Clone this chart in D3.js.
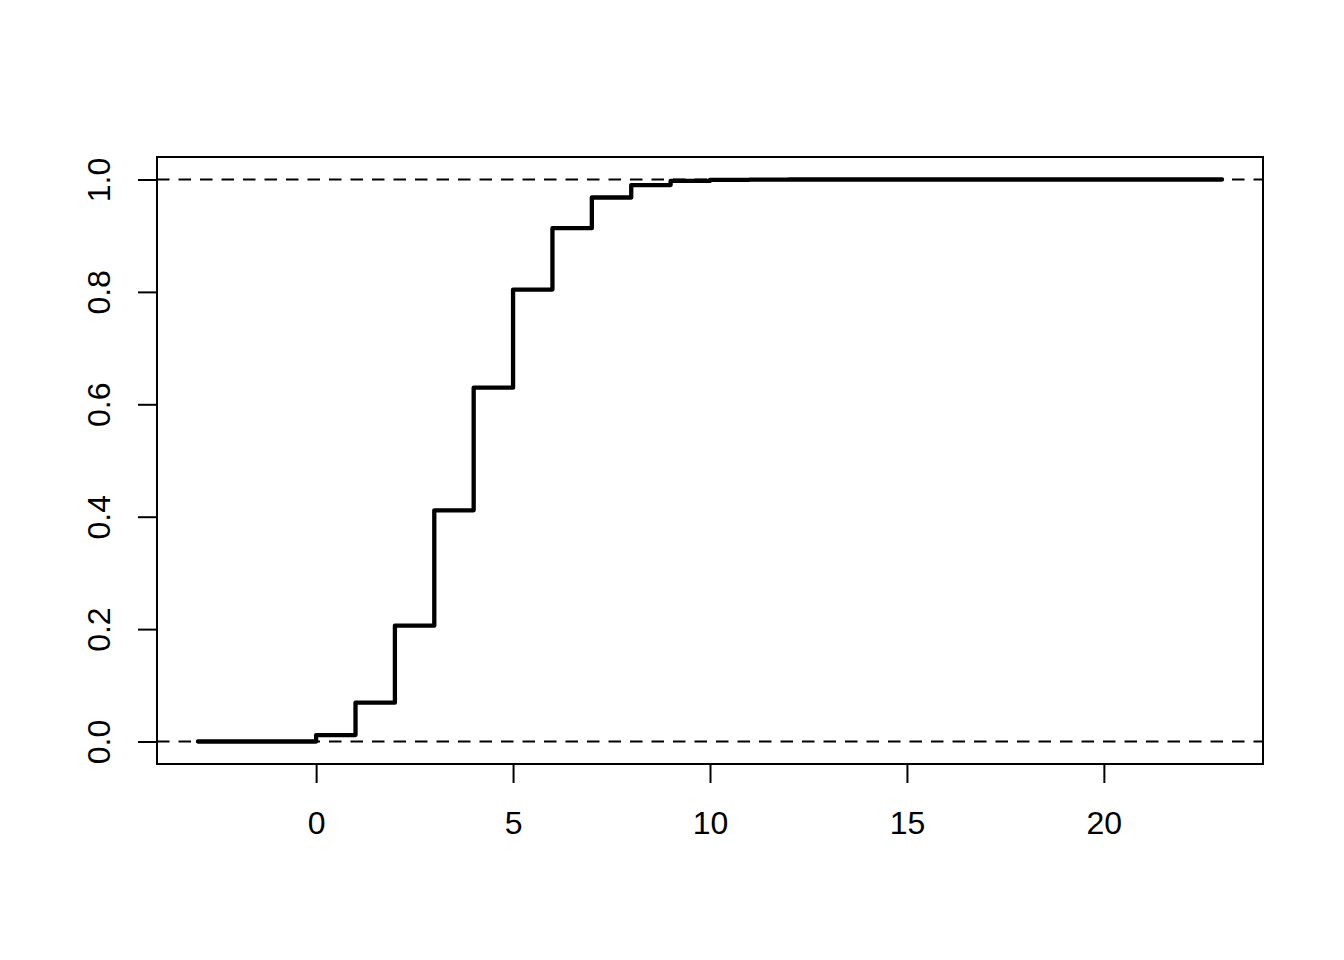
<!DOCTYPE html>
<html>
<head>
<meta charset="utf-8">
<script src="https://cdn.jsdelivr.net/npm/d3@7"></script>
<style>
  body { margin: 0; background: #fff; }
  svg text { font-family: "Liberation Sans", Arial, Helvetica, sans-serif; }
</style>
</head>
<body>
<div class="canvas"></div>
<script>
// step function knots and cumulative values
const knots = [0, 1, 2, 3, 4, 5, 6, 7, 8, 9, 10, 11, 12, 13, 14, 15, 16, 17, 18, 19, 20];
const cdf = [0.0115, 0.0692, 0.2061, 0.4114, 0.6296, 0.8042, 0.9133, 0.9679, 0.9900, 0.9974,
  0.9994, 0.9999, 1, 1, 1, 1, 1, 1, 1, 1, 1];
const xStart = -3;
const xEnd = 23;
const xTicks = [0, 5, 10, 15, 20];
const yTicks = [0, 0.2, 0.4, 0.6, 0.8, 1.0];
const refLines = [0, 1];

const width = 1344;
const height = 960;
const margin = { top: 157, right: 81, bottom: 196, left: 157 };

const svg = d3.select('.canvas').append('svg')
  .attr('width', width)
  .attr('height', height);

// R style 4% padding on both scales
const xPad = (xEnd - xStart) * 0.04;
const x = d3.scaleLinear()
  .domain([xStart - xPad, xEnd + xPad])
  .range([margin.left, width - margin.right]);

const y = d3.scaleLinear()
  .domain([-0.04, 1.04])
  .range([height - margin.bottom, margin.top]);

// points for the step path: flat 0 before first knot, hold last value to xEnd
const pts = [[xStart, 0]]
  .concat(knots.map((k, i) => [k, cdf[i]]))
  .concat([[xEnd, cdf[cdf.length - 1]]]);

svg.append('defs').append('clipPath').attr('id', 'plotclip')
  .append('rect')
  .attr('x', margin.left).attr('y', margin.top)
  .attr('width', width - margin.left - margin.right)
  .attr('height', height - margin.top - margin.bottom);

const plot = svg.append('g').attr('clip-path', 'url(#plotclip)');

// dashed reference lines at 0 and 1
plot.selectAll('line.ref').data(refLines).enter().append('line')
  .attr('class', 'ref')
  .attr('x1', margin.left)
  .attr('x2', width - margin.right)
  .attr('y1', d => y(d))
  .attr('y2', d => y(d))
  .attr('stroke', '#000')
  .attr('stroke-width', 2.2)
  .attr('stroke-dasharray', '12.5,9');

const line = d3.line()
  .x(d => x(d[0]))
  .y(d => y(d[1]))
  .curve(d3.curveStepAfter);

plot.append('path')
  .datum(pts)
  .attr('d', line)
  .attr('fill', 'none')
  .attr('stroke', '#000')
  .attr('stroke-width', 4.3)
  .attr('stroke-linejoin', 'round')
  .attr('stroke-linecap', 'round');

// box
svg.append('rect')
  .attr('x', margin.left).attr('y', margin.top)
  .attr('width', width - margin.left - margin.right)
  .attr('height', height - margin.top - margin.bottom)
  .attr('fill', 'none')
  .attr('stroke', '#000')
  .attr('stroke-width', 2);

// axes
const xAxis = d3.axisBottom(x)
  .tickValues(xTicks)
  .tickSize(19)
  .tickSizeOuter(0);

const yAxis = d3.axisLeft(y)
  .tickValues(yTicks)
  .tickSize(19)
  .tickSizeOuter(0)
  .tickFormat(d3.format('.1f'));

const xAxisGroup = svg.append('g')
  .attr('transform', `translate(0, ${height - margin.bottom})`)
  .call(xAxis);

const yAxisGroup = svg.append('g')
  .attr('transform', `translate(${margin.left}, 0)`)
  .call(yAxis);

[xAxisGroup, yAxisGroup].forEach(g => {
  g.select('.domain').remove();
  g.selectAll('line').attr('stroke', '#000').attr('stroke-width', 2);
  g.selectAll('text').attr('fill', '#000').style('font-size', '32px');
});

xAxisGroup.selectAll('text')
  .attr('dy', null)
  .attr('y', 70);

// rotated y labels like R's las=0
yAxisGroup.selectAll('text')
  .attr('x', null)
  .attr('dy', null)
  .attr('text-anchor', 'middle')
  .attr('transform', 'translate(-47, 0) rotate(-90)');
</script>
</body>
</html>
